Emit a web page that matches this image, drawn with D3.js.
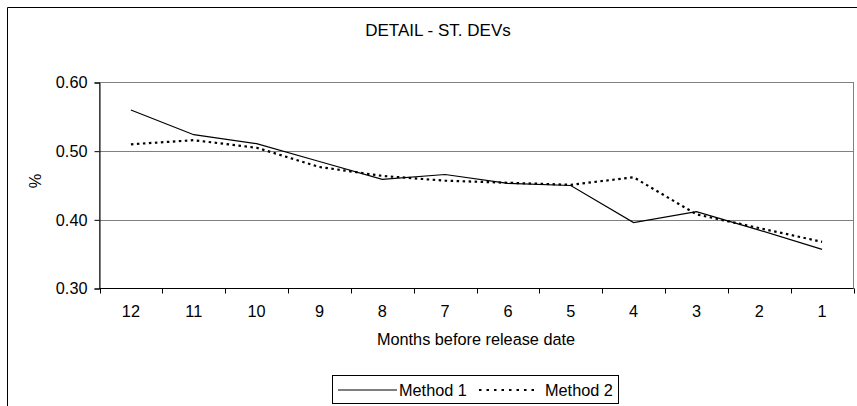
<!DOCTYPE html>
<html>
<head>
<meta charset="utf-8">
<script src="https://cdn.jsdelivr.net/npm/d3@7"></script>
<style>
  html, body { margin: 0; padding: 0; background: #fff; }
  svg { display: block; }
  text { font-family: "Liberation Sans", Arial, sans-serif; fill: #000; }
</style>
</head>
<body>
<svg id="chart" width="857" height="406"></svg>
<script>
// Months before release date (x categories)
const months = ["12", "11", "10", "9", "8", "7", "6", "5", "4", "3", "2", "1"];
// Standard deviations per method
const method1 = [0.560, 0.524, 0.511, 0.485, 0.459, 0.466, 0.453, 0.450, 0.396, 0.412, 0.385, 0.357];
const method2 = [0.510, 0.516, 0.505, 0.477, 0.464, 0.457, 0.454, 0.451, 0.462, 0.408, 0.388, 0.368];
const yTicks = [0.30, 0.40, 0.50, 0.60];
const seriesNames = ["Method 1", "Method 2"];

const FS = 16.3;
const svg = d3.select("#chart");
const plot = { left: 99.5, right: 853.5, top: 82.5, bottom: 288.5 };

// Outer chart frame (extends past the visible area on right/bottom)
svg.append("path")
  .attr("d", "M7.5,900 L7.5,7.5 L900,7.5")
  .attr("fill", "none").attr("stroke", "#000").attr("stroke-width", 1);

// Title
svg.append("text")
  .attr("x", 438).attr("y", 35.5)
  .attr("text-anchor", "middle").attr("font-size", 17)
  .text("DETAIL - ST. DEVs");

const x = d3.scaleBand().domain(months).range([plot.left, plot.right]).paddingInner(0).paddingOuter(0);
const y = d3.scaleLinear().domain([0.30, 0.60]).range([plot.bottom, plot.top]);

// Plot area border (gray top/right)
svg.append("rect")
  .attr("x", plot.left).attr("y", plot.top)
  .attr("width", plot.right - plot.left).attr("height", plot.bottom - plot.top)
  .attr("fill", "none").attr("stroke", "#808080").attr("stroke-width", 1);

// Horizontal gridlines
svg.append("g").selectAll("line")
  .data(yTicks.filter(d => d > 0.30 && d < 0.60))
  .join("line")
  .attr("x1", plot.left).attr("x2", plot.right)
  .attr("y1", d => Math.round(y(d)) + 0.5).attr("y2", d => Math.round(y(d)) + 0.5)
  .attr("stroke", "#808080").attr("stroke-width", 1);

// Y axis
const yAxis = d3.axisLeft(y).tickValues(yTicks).tickFormat(d3.format(".2f")).tickSize(5).tickPadding(7);
const gy = svg.append("g").attr("transform", `translate(${plot.left},0)`).call(yAxis);
gy.select(".domain").attr("stroke", "#000");
gy.selectAll(".tick line").attr("stroke", "#000");
gy.selectAll(".tick text").attr("font-size", FS).attr("font-family", "Liberation Sans, Arial, sans-serif").attr("fill", "#000");

// X axis: ticks on category boundaries
const gx = svg.append("g").attr("transform", `translate(0,${plot.bottom})`);
gx.append("line").attr("x1", plot.left).attr("x2", plot.right).attr("y1", 0).attr("y2", 0).attr("stroke", "#000");
const bounds = months.map(m => x(m)).concat([x(months[months.length - 1]) + x.bandwidth()]);
gx.selectAll("line.tk").data(bounds).join("line").attr("class", "tk")
  .attr("x1", d => Math.round(d) + 0.5).attr("x2", d => Math.round(d) + 0.5)
  .attr("y1", 0).attr("y2", 5).attr("stroke", "#000");
gx.selectAll("text").data(months).join("text")
  .attr("x", d => x(d) + x.bandwidth() / 2).attr("y", 28.5)
  .attr("text-anchor", "middle").attr("font-size", FS)
  .text(d => d);

// Axis titles
svg.append("text").attr("x", 476).attr("y", 345)
  .attr("text-anchor", "middle").attr("font-size", FS)
  .text("Months before release date");
svg.append("text")
  .attr("transform", "translate(41,181) rotate(-90)")
  .attr("text-anchor", "middle").attr("font-size", FS)
  .text("%");

// Series lines
const line = d3.line()
  .x((d, i) => x(months[i]) + x.bandwidth() / 2)
  .y(d => y(d));

svg.append("path").datum(method1)
  .attr("d", line).attr("fill", "none")
  .attr("stroke", "#000").attr("stroke-width", 1.2);
svg.append("path").datum(method2)
  .attr("d", line).attr("fill", "none")
  .attr("stroke", "#000").attr("stroke-width", 2.2)
  .attr("stroke-dasharray", "2.5,3.5");

// Legend
const lg = svg.append("g");
lg.append("rect").attr("x", 332.5).attr("y", 375.5).attr("width", 286).attr("height", 28)
  .attr("fill", "#fff").attr("stroke", "#000").attr("stroke-width", 1);
lg.append("line").attr("x1", 338).attr("x2", 397).attr("y1", 390).attr("y2", 390)
  .attr("stroke", "#000").attr("stroke-width", 1.2);
lg.append("text").attr("x", 399).attr("y", 395.5).attr("font-size", FS).text(seriesNames[0]);
lg.append("line").attr("x1", 479).attr("x2", 536).attr("y1", 390).attr("y2", 390)
  .attr("stroke", "#000").attr("stroke-width", 2.2).attr("stroke-dasharray", "2.5,5");
lg.append("text").attr("x", 545).attr("y", 395.5).attr("font-size", FS).text(seriesNames[1]);
</script>
</body>
</html>
